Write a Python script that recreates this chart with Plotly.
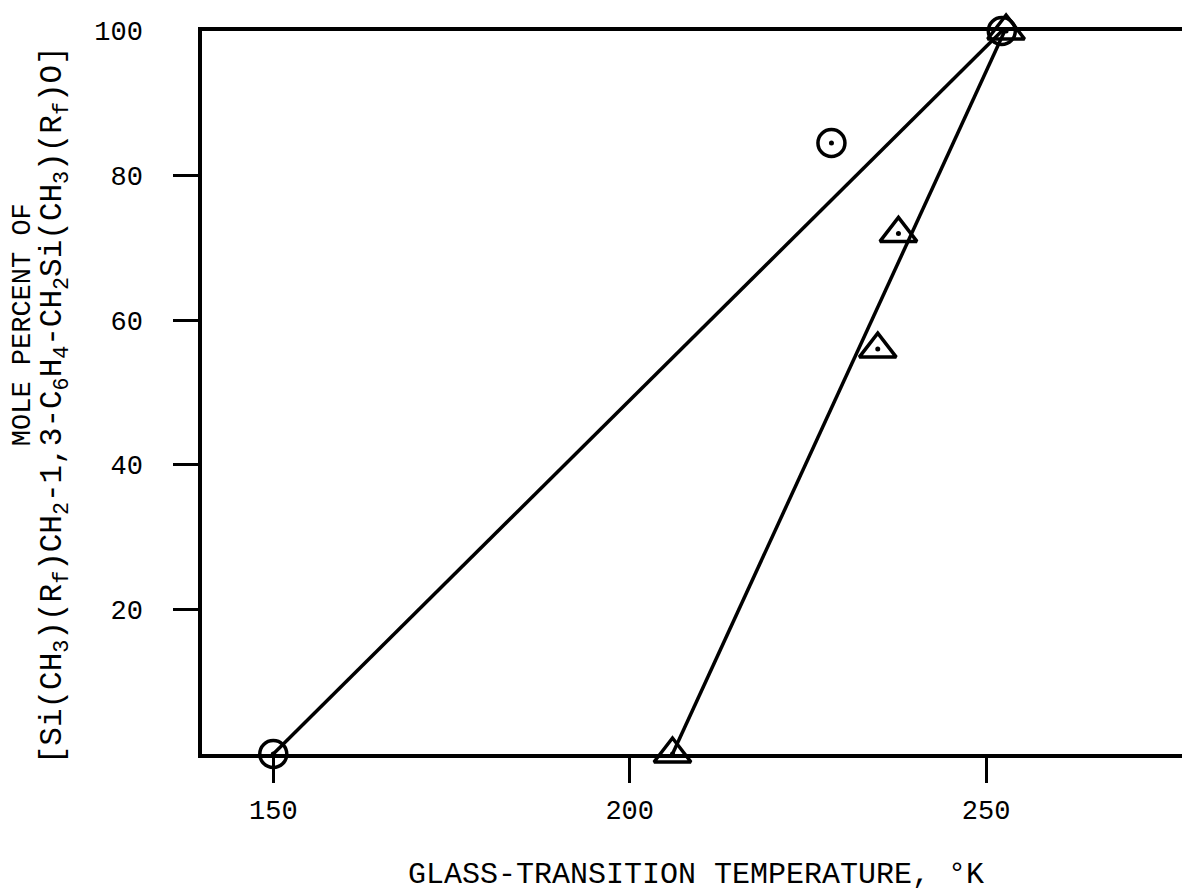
import plotly.graph_objects as go

# Data
circle_temp = [150, 228.3, 252.2]
circle_mole = [0, 84.5, 100]
triangle_temp = [206, 234.8, 237.7, 252.8]
triangle_mole = [0, 56, 72, 100]
# straight fit lines (endpoints)
circle_fit_temp = [150, 252.2]
circle_fit_mole = [0, 100]
triangle_fit_temp = [206, 252.6]
triangle_fit_mole = [0, 100]

x_ticks = [150, 200, 250]
y_ticks = [20, 40, 60, 80, 100]
y_tick_marks = [20, 40, 60, 80]

FONT = "Liberation Mono, Courier New, monospace"

fig = go.Figure()
for xs, ys in [(circle_fit_temp, circle_fit_mole), (triangle_fit_temp, triangle_fit_mole)]:
    fig.add_trace(go.Scatter(x=xs, y=ys, mode="lines", line=dict(color="black", width=3.5),
                             cliponaxis=False, showlegend=False, hoverinfo="skip"))
fig.add_trace(go.Scatter(x=circle_temp, y=circle_mole, mode="markers",
                         marker=dict(symbol="circle-open", size=27, color="black",
                                     line=dict(color="black", width=3.5)),
                         cliponaxis=False, showlegend=False))
fig.add_trace(go.Scatter(x=triangle_temp, y=triangle_mole, mode="markers",
                         marker=dict(symbol="triangle-up-open", size=32, color="black",
                                     line=dict(color="black", width=3.5)),
                         cliponaxis=False, showlegend=False))
fig.add_trace(go.Scatter(x=circle_temp + triangle_temp, y=circle_mole + triangle_mole, mode="markers",
                         marker=dict(symbol="circle", size=5, color="black"),
                         cliponaxis=False, showlegend=False, hoverinfo="skip"))

fig.update_layout(
    width=1185, height=889,
    margin=dict(l=194, r=3, t=23, b=143, autoexpand=False),
    paper_bgcolor="white", plot_bgcolor="white",
    font=dict(family=FONT, color="black", size=27),
    xaxis=dict(range=[140, 278.6], tickvals=x_ticks, ticks="outside", ticklen=25,
               tickwidth=3, tickcolor="black", showline=True, linewidth=3.5, linecolor="black",
               mirror=True, showgrid=False, zeroline=False, ticklabelstandoff=4,
               automargin=False, tickfont=dict(size=27, family=FONT, color="black")),
    yaxis=dict(range=[0, 100], tickvals=y_ticks, ticks="", showline=True, linewidth=3.5,
               linecolor="black", mirror=True, showgrid=False, zeroline=False,
               ticklabelstandoff=50, automargin=False,
               tickfont=dict(size=27, family=FONT, color="black"),
               minor=dict(tickvals=y_tick_marks, ticks="outside", ticklen=25, tickwidth=3,
                          tickcolor="black", showgrid=False)),
    annotations=[
        dict(text="MOLE PERCENT OF", xref="paper", yref="paper", x=-0.1815, y=0.594,
             xanchor="center", yanchor="middle", textangle=-90, showarrow=False,
             borderpad=0, font=dict(size=27, family=FONT, color="black")),
        dict(text="[Si(CH<sub>3</sub>)(R<sub>f</sub>)CH<sub>2</sub>-1,3-C<sub>6</sub>H<sub>4</sub>-CH<sub>2</sub>Si(CH<sub>3</sub>)(R<sub>f</sub>)O]",
             xref="paper", yref="paper", x=-0.149, y=0.482,
             xanchor="center", yanchor="middle", textangle=-90, showarrow=False,
             borderpad=0, font=dict(size=31, family=FONT, color="black")),
        dict(text="GLASS-TRANSITION TEMPERATURE, °K", xref="paper", yref="paper",
             x=0.5, y=-0.1676, xanchor="center", yanchor="middle", showarrow=False,
             font=dict(size=30, family=FONT, color="black")),
    ],
)

fig.write_html("out.html")
